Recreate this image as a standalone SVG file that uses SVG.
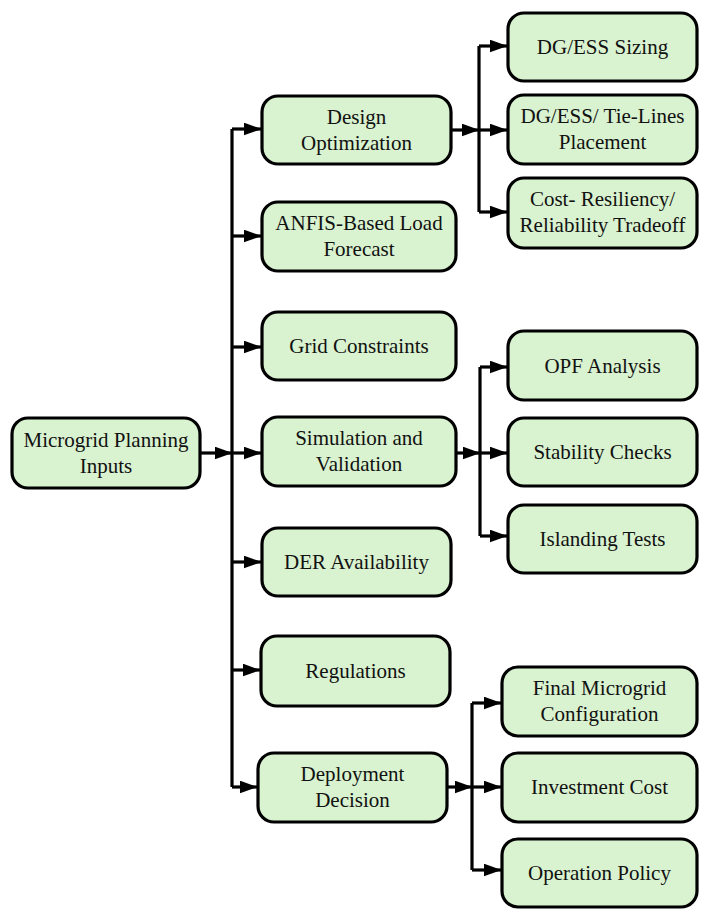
<svg xmlns="http://www.w3.org/2000/svg" width="708" height="918" viewBox="0 0 708 918">
<style>
.box{fill:#d9f2d0;stroke:#000;stroke-width:3.2}
.t{font-family:'Liberation Serif','Times New Roman',serif;font-size:21px;fill:#111;text-anchor:middle}
.c{fill:none;stroke:#000;stroke-width:3.2}
.a{marker-end:url(#ah)}
</style>
<defs>
<marker id="ah" markerUnits="userSpaceOnUse" markerWidth="19" markerHeight="13" refX="17.5" refY="6.5" orient="auto">
<path d="M0,0 L18,6.5 L0,13 z" fill="#000"/>
</marker>
</defs>
<g id="connectors">
<path class="c" d="M232,129 V787"/>
<path class="c a" d="M200,453 H232"/>
<path class="c a" d="M232,129 H261"/>
<path class="c a" d="M232,236 H261"/>
<path class="c a" d="M232,347 H261"/>
<path class="c a" d="M232,453 H261"/>
<path class="c a" d="M232,562 H261"/>
<path class="c a" d="M232,670 H260"/>
<path class="c a" d="M232,787 H257"/>
<path class="c" d="M479,46 V212"/>
<path class="c a" d="M451,130 H479"/>
<path class="c a" d="M479,46 H507"/>
<path class="c a" d="M479,130 H507"/>
<path class="c a" d="M479,212 H507"/>
<path class="c" d="M480,367 V536"/>
<path class="c a" d="M456,453 H480"/>
<path class="c a" d="M480,367 H507"/>
<path class="c a" d="M480,453 H507"/>
<path class="c a" d="M480,536 H507"/>
<path class="c" d="M472,703 V870"/>
<path class="c a" d="M447,787 H472"/>
<path class="c a" d="M472,703 H501"/>
<path class="c a" d="M472,787 H501"/>
<path class="c a" d="M472,870 H501"/>
</g>
<g id="n-inputs"><rect class="box" x="12" y="418" width="188" height="70" rx="16"/><text class="t" x="106" y="447">Microgrid Planning</text><text class="t" x="106" y="473">Inputs</text></g>
<g id="n-design"><rect class="box" x="262" y="96" width="189" height="68" rx="16"/><text class="t" x="356.5" y="124">Design</text><text class="t" x="356.5" y="150">Optimization</text></g>
<g id="n-anfis"><rect class="box" x="262" y="202" width="194" height="69" rx="16"/><text class="t" x="359" y="230">ANFIS-Based Load</text><text class="t" x="359" y="256">Forecast</text></g>
<g id="n-grid"><rect class="box" x="262" y="312" width="194" height="68" rx="16"/><text class="t" x="359" y="353">Grid Constraints</text></g>
<g id="n-sim"><rect class="box" x="262" y="417" width="194" height="69" rx="16"/><text class="t" x="359" y="445">Simulation and</text><text class="t" x="359" y="471">Validation</text></g>
<g id="n-der"><rect class="box" x="262" y="528" width="189" height="68" rx="16"/><text class="t" x="356.5" y="569">DER Availability</text></g>
<g id="n-reg"><rect class="box" x="261" y="636" width="189" height="70" rx="16"/><text class="t" x="355.5" y="678">Regulations</text></g>
<g id="n-deploy"><rect class="box" x="258" y="753" width="189" height="69" rx="16"/><text class="t" x="352.5" y="781">Deployment</text><text class="t" x="352.5" y="807">Decision</text></g>
<g id="n-sizing"><rect class="box" x="508" y="13" width="189" height="68" rx="16"/><text class="t" x="602.5" y="54">DG/ESS Sizing</text></g>
<g id="n-placement"><rect class="box" x="508" y="95" width="189" height="69" rx="16"/><text class="t" x="602.5" y="123">DG/ESS/ Tie-Lines</text><text class="t" x="602.5" y="149">Placement</text></g>
<g id="n-tradeoff"><rect class="box" x="508" y="178" width="189" height="70" rx="16"/><text class="t" x="602.5" y="206">Cost- Resiliency/</text><text class="t" x="602.5" y="232">Reliability Tradeoff</text></g>
<g id="n-opf"><rect class="box" x="508" y="331" width="189" height="69" rx="16"/><text class="t" x="602.5" y="373">OPF Analysis</text></g>
<g id="n-stability"><rect class="box" x="508" y="418" width="189" height="68" rx="16"/><text class="t" x="602.5" y="459">Stability Checks</text></g>
<g id="n-islanding"><rect class="box" x="508" y="505" width="189" height="68" rx="16"/><text class="t" x="602.5" y="546">Islanding Tests</text></g>
<g id="n-final"><rect class="box" x="502" y="667" width="195" height="69" rx="16"/><text class="t" x="599.5" y="695">Final Microgrid</text><text class="t" x="599.5" y="721">Configuration</text></g>
<g id="n-invest"><rect class="box" x="502" y="753" width="195" height="69" rx="16"/><text class="t" x="599.5" y="794">Investment Cost</text></g>
<g id="n-policy"><rect class="box" x="502" y="839" width="195" height="68" rx="16"/><text class="t" x="599.5" y="880">Operation Policy</text></g>
</svg>
